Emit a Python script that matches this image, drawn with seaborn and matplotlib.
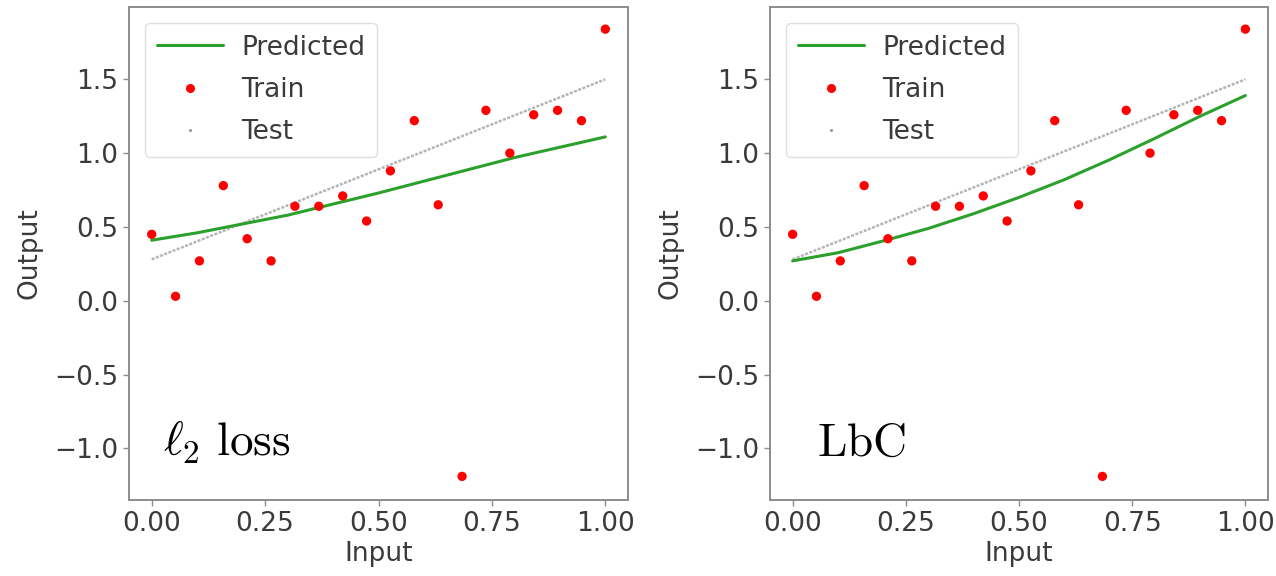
import numpy as np
import pandas as pd
import matplotlib
matplotlib.use("Agg")
import matplotlib.pyplot as plt
import seaborn as sns
from matplotlib.lines import Line2D

# ---- data ----
train_x = [0.0, 0.0526, 0.1053, 0.1579, 0.2105, 0.2632, 0.3158, 0.3684, 0.4211, 0.4737,
           0.5263, 0.5789, 0.6316, 0.6842, 0.7368, 0.7895, 0.8421, 0.8947, 0.9474, 1.0]
train_y = [0.45, 0.03, 0.27, 0.78, 0.42, 0.27, 0.64, 0.64, 0.71, 0.54,
           0.88, 1.22, 0.65, -1.19, 1.29, 1.00, 1.26, 1.29, 1.22, 1.84]

test_x = [0.0, 0.25, 0.5, 0.75, 1.0]
test_y = [0.28, 0.585, 0.89, 1.195, 1.50]

pred_x = [0.0, 0.1, 0.2, 0.3, 0.4, 0.5, 0.6, 0.7, 0.8, 0.9, 1.0]
pred_l2 = [0.41, 0.46, 0.52, 0.58, 0.655, 0.73, 0.81, 0.89, 0.97, 1.04, 1.11]
pred_lbc = [0.27, 0.325, 0.405, 0.49, 0.59, 0.70, 0.82, 0.955, 1.10, 1.25, 1.39]

panel_labels = [r"$\ell_2\ \mathrm{loss}$", r"$\mathrm{LbC}$"]
x_ticks = [0.0, 0.25, 0.5, 0.75, 1.0]
y_ticks = [-1.0, -0.5, 0.0, 0.5, 1.0, 1.5]

sns.set_theme(style="white")
plt.rcParams["font.family"] = ["DejaVu Sans"]
plt.rcParams["mathtext.fontset"] = "cm"

fig = plt.figure(figsize=(12.76, 5.76), dpi=100)
ax1 = fig.add_axes([129/1276, 1-500/576, 499/1276, 493/576])
ax2 = fig.add_axes([770/1276, 1-500/576, 498/1276, 493/576])

green = "#2ca02c"
txtcol = "#3a3a3a"
spinecol = "#8c8c8c"

for ax, pred, lab in [(ax1, pred_l2, panel_labels[0]), (ax2, pred_lbc, panel_labels[1])]:
    df_test = pd.DataFrame({"x": test_x, "y": test_y})
    sns.lineplot(data=df_test, x="x", y="y", ax=ax, color="#b5b5b5", lw=1.8,
                 linestyle=(0, (1.2, 0.6)), legend=False, zorder=2)
    df_pred = pd.DataFrame({"x": pred_x, "y": pred})
    sns.lineplot(data=df_pred, x="x", y="y", ax=ax, color=green, lw=2.2, legend=False, zorder=3)
    df_train = pd.DataFrame({"x": train_x, "y": train_y})
    sns.scatterplot(data=df_train, x="x", y="y", ax=ax, color="red", s=45,
                    edgecolor="none", legend=False, zorder=4)
    ax.set_xlim(-0.05, 1.05)
    ax.set_ylim(-1.35, 1.99)
    ax.set_xticks(x_ticks)
    ax.set_xticklabels(["0.00", "0.25", "0.50", "0.75", "1.00"])
    ax.set_yticks(y_ticks)
    ax.set_yticklabels(["\u22121.0", "\u22120.5", "0.0", "0.5", "1.0", "1.5"])
    ax.tick_params(axis="both", labelsize=19, colors=txtcol, length=4, width=1,
                   direction="out", bottom=True, left=True, color=spinecol, pad=4)
    ax.set_xlabel("Input", fontsize=19, color=txtcol, labelpad=3)
    ax.set_ylabel("Output", fontsize=19, color=txtcol, labelpad=8)
    for sp in ax.spines.values():
        sp.set_color(spinecol)
        sp.set_linewidth(1.4)
    handles = [Line2D([], [], color=green, lw=2.2),
               Line2D([], [], color="red", marker="o", ls="none", markersize=6.5, markeredgewidth=0),
               Line2D([], [], color="#9a9a9a", marker=".", ls="none", markersize=2.5)]
    leg = ax.legend(handles, ["Predicted", "Train", "Test"], loc="upper left",
                    fontsize=19, frameon=True, handlelength=2.5, handletextpad=0.7,
                    borderpad=0.45, labelspacing=0.62, fancybox=True,
                    bbox_to_anchor=(0.0, 1.0), borderaxespad=0.6)
    leg.get_frame().set_edgecolor("#d8d8d8")
    leg.get_frame().set_linewidth(1.0)
    for t in leg.get_texts():
        t.set_color(txtcol)
    ax.text(0.025 if ax is ax1 else 0.053, -1.05, lab, fontsize=34, color="black",
            ha="left", va="baseline")

fig.savefig("out.png", dpi=100)
